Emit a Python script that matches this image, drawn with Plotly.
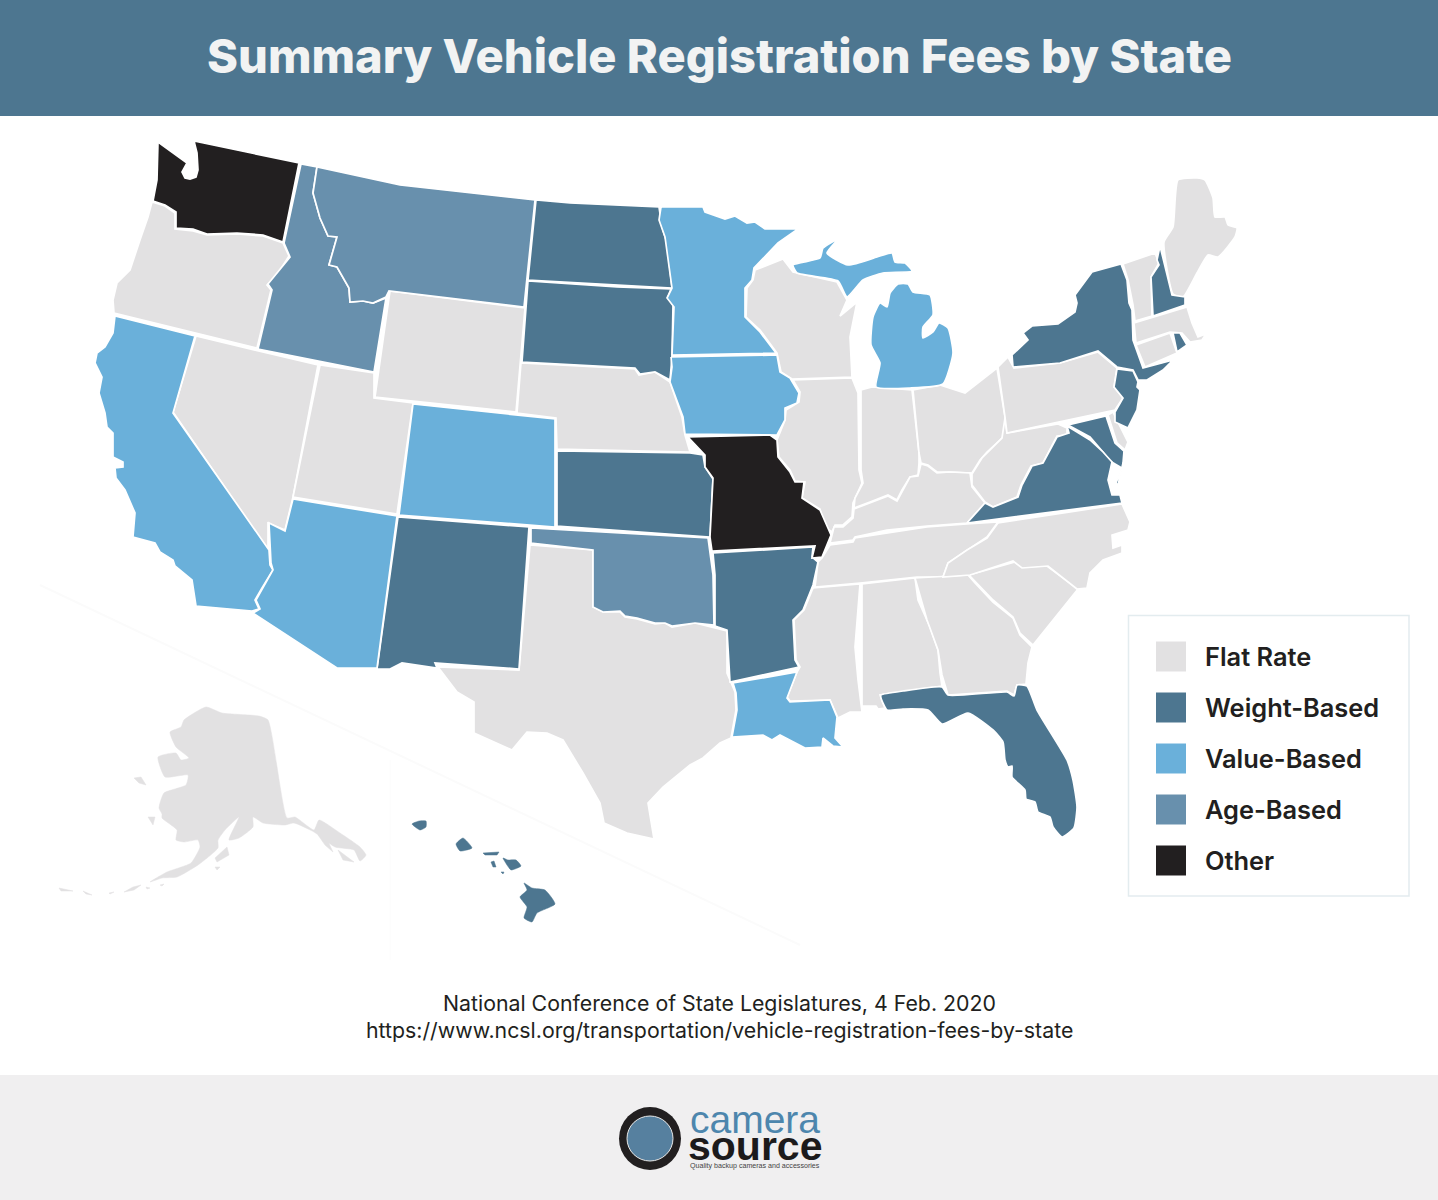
import plotly.graph_objects as go

# map has no usable base layer offline, so the outlines are read off the picture
WA = [(158,142),(173,153),(187,163),(182,172),(185,178),(190,179),(196,177),(198,170),(197,153),(194,141),(299,163),(283,242),(263,235),(237,233),(207,234),(193,229),(176,228),(176,212),(165,205),(153,201),(157,180)]
OR = [(152,202),(165,206),(175,213),(175,229),(193,231),(207,235),(237,234),(263,236),(283,243),(289,256),(277,275),(267,285),(271,290),(257,348),(114,313),(113,300),(117,283),(130,270),(140,240),(148,217)]
ID = [(301,164),(317,167),(313,193),(320,218),(328,236),(337,237),(329,265),(337,267),(349,288),(350,302),(363,301),(373,303),(386,298),(374,372),(258,349),(272,290),(268,284),(290,257),(284,243)]
MT = [(317,167),(400,185),(535,200),(524,307),(389,291),(386,297),(373,303),(363,301),(350,302),(349,288),(337,267),(329,265),(337,237),(328,236),(320,218),(313,193)]
WY = [(390,291),(525,308),(516,412),(375,397)]
ND = [(536,200),(570,203),(659,207),(662,227),(667,243),(672,288),(528,280)]
SD = [(528,281),(617,287),(671,289),(668,297),(673,305),(672,357),(670,380),(655,372),(640,374),(635,368),(522,362)]
NE = [(521,363),(635,369),(639,375),(655,372),(670,382),(682,417),(685,435),(690,452),(557,449),(556,418),(517,413)]
CO = [(413,404),(555,419),(555,527),(399,515)]
UT = [(320,365),(374,373),(374,398),(413,403),(397,514),(293,497)]
NV = [(196,336),(318,365),(293,497),(285,530),(268,523),(268,550),(173,412)]
CA = [(115,316),(195,336),(173,413),(269,550),(270,565),(273,570),(262,588),(255,600),(259,609),(252,611),(196,606),(192,580),(175,566),(173,560),(160,552),(155,543),(133,537),(135,513),(125,490),(116,478),(115,468),(123,467),(123,462),(113,457),(113,433),(107,427),(105,413),(99,393),(102,377),(95,363),(97,353),(105,347),(113,333)]
AZ = [(293,499),(397,516),(377,668),(337,668),(253,613),(260,609),(256,600),(263,588),(273,570),(271,563),(269,523),(285,531)]
NM = [(398,517),(529,527),(519,669),(435,663),(437,668),(402,663),(390,669),(377,669)]
OK = [(531,528),(708,538),(713,575),(714,625),(695,623),(672,626),(665,623),(655,623),(637,618),(625,616),(620,611),(603,612),(593,607),(593,550),(531,543)]
KS = [(557,451),(690,453),(703,455),(705,467),(713,479),(710,537),(557,526)]
MO = [(688,437),(770,435),(777,440),(778,457),(790,472),(795,482),(804,482),(802,498),(820,510),(827,527),(831,535),(822,557),(812,558),(815,546),(712,551),(710,537),(713,478),(705,467),(705,455)]
AR = [(713,553),(813,547),(812,557),(818,562),(813,585),(803,610),(793,620),(795,660),(799,667),(730,682),(727,630),(715,626),(715,575)]
LA = [(733,683),(797,672),(787,698),(790,702),(830,700),(837,717),(835,738),(843,747),(833,746),(823,738),(822,747),(805,748),(780,735),(772,740),(763,735),(732,737),(737,710),(736,693)]
TX = [(530,545),(593,550),(593,607),(603,612),(620,612),(625,617),(637,619),(655,624),(665,623),(672,627),(695,623),(727,631),(727,673),(735,692),(736,710),(731,738),(720,743),(703,758),(690,765),(663,787),(648,803),(654,839),(627,833),(604,823),(600,803),(583,773),(563,740),(547,733),(527,732),(512,750),(474,733),(474,702),(457,692),(438,667),(519,670)]
MN = [(661,207),(703,207),(705,212),(725,219),(735,216),(747,223),(755,222),(765,229),(798,229),(778,243),(754,268),(752,280),(745,288),(745,317),(760,332),(776,353),(672,355),(674,307),(667,298),(672,288),(665,237),(659,220)]
IA = [(671,357),(777,355),(780,372),(790,378),(799,393),(797,403),(785,408),(785,420),(777,435),(685,434),(683,417),(670,382),(672,367)]
WI = [(755,270),(783,259),(793,272),(837,282),(847,300),(840,316),(857,302),(850,337),(852,377),(792,379),(781,372),(777,353),(760,330),(746,317),(747,288),(753,280)]
MI_UPPER = [(793,265),(820,258),(823,248),(838,239),(827,253),(848,265),(877,257),(892,253),(895,262),(905,263),(912,271),(883,273),(863,280),(847,297),(838,281),(797,273)]
MI_LOWER = [(880,303),(887,307),(890,293),(898,284),(908,284),(913,292),(930,295),(933,315),(923,327),(923,338),(933,332),(939,323),(948,328),(953,353),(943,384),(910,388),(876,387),(880,363),(871,345),(873,317)]
IL = [(793,380),(852,378),(858,393),(859,470),(862,483),(853,503),(852,517),(843,525),(835,525),(832,532),(825,527),(820,509),(802,498),(805,482),(795,481),(790,470),(779,457),(777,440),(785,420),(786,410),(799,402),(800,392)]
IN = [(861,390),(872,387),(912,390),(919,453),(919,463),(918,475),(910,477),(902,490),(897,500),(888,495),(870,502),(854,508),(855,498),(863,483),(861,470)]
OH = [(913,390),(940,385),(965,393),(997,368),(1005,417),(1007,433),(1000,440),(987,452),(980,460),(972,473),(950,472),(937,472),(928,465),(921,463),(919,453)]
KY = [(921,464),(928,466),(937,473),(950,472),(970,473),(972,487),(985,503),(967,523),(927,526),(887,530),(855,537),(853,540),(830,543),(832,535),(834,527),(843,527),(853,518),(854,509),(870,503),(888,496),(897,501),(910,477),(918,476)]
TN = [(830,545),(853,542),(855,538),(927,527),(967,524),(998,522),(987,537),(967,550),(948,563),(943,577),(917,577),(860,583),(815,587),(818,562),(822,558)]
MS = [(813,588),(860,584),(855,647),(858,680),(862,712),(850,712),(838,718),(830,700),(790,701),(787,697),(797,672),(800,667),(796,660),(794,620),(804,610)]
AL = [(862,584),(915,578),(918,600),(930,627),(938,650),(940,673),(942,686),(880,695),(885,708),(878,709),(876,706),(862,706)]
GA = [(915,578),(968,575),(975,583),(993,602),(1013,618),(1020,635),(1032,647),(1028,663),(1026,684),(1017,685),(1014,695),(1007,691),(948,695),(942,675),(938,650),(927,620)]
SC = [(969,575),(1015,562),(1022,567),(1047,566),(1078,589),(1033,645),(1020,633),(1013,617),(993,600),(975,582)]
NC = [(998,523),(1122,504),(1130,522),(1128,530),(1112,535),(1113,548),(1122,545),(1122,553),(1103,560),(1090,573),(1087,588),(1077,589),(1048,566),(1022,568),(1013,561),(970,575),(943,577),(948,563),(967,550),(987,538)]
VA = [(967,523),(1122,503),(1120,495),(1112,495),(1108,480),(1112,462),(1103,452),(1090,440),(1077,432),(1067,426),(1069,433),(1057,437),(1043,463),(1032,466),(1022,485),(1018,497),(993,507),(985,503)]
WV = [(1005,418),(1007,433),(1058,424),(1067,428),(1067,435),(1057,436),(1043,463),(1031,466),(1021,485),(1017,497),(993,507),(985,502),(972,485),(972,474),(982,458),(1002,438)]
MD = [(1068,425),(1106,416),(1115,443),(1124,451),(1123,463),(1118,485),(1116,483),(1122,468),(1110,461),(1103,452),(1090,437),(1077,430)]
DE = [(1108,415),(1113,412),(1128,442),(1125,450),(1117,443)]
PA = [(998,367),(1008,357),(1014,368),(1060,363),(1098,352),(1117,368),(1114,387),(1123,398),(1115,410),(1007,433),(1005,417)]
NY = [(1013,367),(1012,355),(1028,340),(1023,333),(1032,326),(1058,324),(1075,312),(1077,303),(1075,295),(1092,272),(1121,264),(1127,280),(1129,303),(1132,310),(1133,340),(1143,368),(1173,360),(1163,370),(1147,380),(1138,380),(1133,370),(1117,367),(1098,351),(1060,363)]
NJ = [(1117,369),(1133,371),(1138,382),(1137,387),(1140,390),(1137,410),(1128,428),(1115,422),(1115,412),(1123,398),(1114,387)]
CT = [(1136,345),(1170,333),(1177,353),(1145,367)]
RI = [(1173,333),(1180,333),(1187,345),(1177,352)]
MA = [(1134,323),(1187,307),(1192,323),(1198,337),(1206,334),(1202,340),(1190,342),(1182,333),(1170,332),(1136,343)]
VT = [(1123,264),(1155,253),(1159,263),(1151,277),(1152,316),(1135,321),(1133,305),(1128,280)]
NH = [(1160,246),(1172,295),(1185,297),(1185,305),(1153,316),(1151,277),(1159,265),(1157,260)]
ME = [(1164,242),(1173,227),(1178,180),(1197,178),(1205,180),(1213,198),(1215,217),(1225,217),(1228,225),(1237,228),(1235,237),(1218,257),(1208,255),(1197,273),(1183,297),(1173,294)]
FL = [(881,695),(903,691),(942,687),(948,695),(1007,692),(1014,696),(1017,685),(1027,686),(1037,710),(1067,760),(1073,780),(1077,807),(1074,828),(1062,837),(1053,827),(1050,817),(1038,812),(1035,802),(1026,799),(1025,790),(1012,777),(1012,766),(1008,767),(1005,760),(1003,742),(993,730),(968,713),(942,724),(928,710),(903,709),(887,710),(881,698)]

AK_MAIN = [(206,707),(222,713),(259,716),(268,720),(287,818),(295,817),(314,830),(319,820),(340,833),(360,847),(366,855),(360,861),(354,850),(335,847),(314,832),(294,823),(285,825),(263,823),(253,817),(253,827),(239,838),(229,840),(239,817),(225,830),(218,840),(218,848),(198,865),(177,877),(162,878),(150,882),(167,872),(191,863),(200,847),(198,840),(184,842),(176,840),(177,830),(162,818),(162,814),(159,808),(164,793),(186,785),(188,775),(165,777),(158,757),(176,753),(181,760),(189,758),(176,747),(170,732),(181,727),(184,720)]
AK_KODIAK = [(215,858),(227,847),(229,855),(217,862)]
AK_POW = [(318,835),(325,835),(333,852),(325,845)]
AK_BARANOF = [(338,850),(354,862),(343,860)]
AK_ST_LAWRENCE = [(134,778),(141,777),(146,785),(139,783)]
AK_NUNIVAK = [(148,817),(155,817),(153,825)]
AK_ALEUT1 = [(59,888),(73,891),(61,891)]
AK_ALEUT2 = [(83,891),(92,895),(86,894)]
AK_ALEUT3 = [(109,893),(114,892),(110,894)]
AK_ALEUT4 = [(124,892),(133,887),(141,885),(134,890)]
AK_ALEUT5 = [(146,887),(150,888),(147,889)]
AK_ALEUT6 = [(160,885),(164,884),(162,886)]
AK_ALEUT7 = [(215,867),(220,867),(217,870)]
HI_KAUAI = [(412,824),(419,821),(426,821),(426,827),(420,830)]
HI_OAHU = [(456,844),(463,838),(472,848),(460,851)]
HI_MOLOKAI = [(483,853),(499,852),(497,855),(485,855)]
HI_LANAI = [(491,862),(494,861),(496,867),(493,867)]
HI_KAHOOLAWE = [(501,872),(504,872),(503,874)]
HI_MAUI = [(503,858),(508,860),(516,860),(521,866),(511,870),(507,865)]
HI_BIG = [(524,883),(532,888),(545,890),(555,904),(537,913),(532,922),(524,918),(527,907),(520,897),(527,890)]

AK = [AK_MAIN, AK_KODIAK, AK_POW, AK_BARANOF, AK_ST_LAWRENCE, AK_NUNIVAK, AK_ALEUT1, AK_ALEUT2, AK_ALEUT3, AK_ALEUT4, AK_ALEUT5, AK_ALEUT6, AK_ALEUT7]
HI = [HI_KAUAI, HI_OAHU, HI_MOLOKAI, HI_LANAI, HI_KAHOOLAWE, HI_MAUI, HI_BIG]

flat_rate = [OR, NV, UT, WY, NE, TX, WI, IL, IN, OH, KY, TN, MS, AL, GA, SC, NC, WV, PA, DE, CT, MA, VT, ME] + AK
weight_based = [ND, SD, KS, NM, AR, NY, NH, NJ, RI, MD, VA, FL] + HI
value_based = [CA, AZ, CO, MN, IA, LA, MI_UPPER, MI_LOWER]
age_based = [ID, MT, OK]
other = [WA, MO]

# curvy coasts read better rounded, everything else keeps sharp corners
rounded = [FL, ME, MI_UPPER, MI_LOWER, AK_MAIN, HI_KAUAI, HI_OAHU, HI_MAUI, HI_BIG]
# islands and Alaska have no white outline, it would eat them
no_outline = AK + HI

legend_labels = ["Flat Rate", "Weight-Based", "Value-Based", "Age-Based", "Other"]
legend_colors = ["#e2e1e2", "#4d7690", "#6ab0da", "#6890ad", "#221f20"]
legend_centers = [656, 707, 758, 809, 860]
groups = [flat_rate, weight_based, value_based, age_based, other]

title = "Summary Vehicle Registration Fees by State"
source_lines = ["National Conference of State Legislatures, 4 Feb. 2020",
                "https://www.ncsl.org/transportation/vehicle-registration-fees-by-state"]

W, H = 1438, 1200

fig = go.Figure()

for polys, label, color in zip(groups, legend_labels, legend_colors):
    for poly in polys:
        xs = [p[0] for p in poly] + [poly[0][0]]
        ys = [p[1] for p in poly] + [poly[0][1]]
        bare = any(poly is q for q in no_outline)
        line = dict(color=color if bare else "white", width=0.5 if bare else 1.7)
        if any(poly is q for q in rounded):
            line.update(shape="spline", smoothing=0.5)
        fig.add_trace(go.Scatter(x=xs, y=ys, mode="lines", fill="toself", fillcolor=color,
                                 line=line, hoverinfo="skip", showlegend=False, name=label))

shapes = [
    dict(type="rect", x0=0, x1=W, y0=0, y1=116, fillcolor="#4d7690", line_width=0, layer="below"),
    dict(type="rect", x0=0, x1=W, y0=1075, y1=H, fillcolor="#f0eff0", line_width=0, layer="below"),
    dict(type="rect", x0=1128.5, x1=1409, y0=615.5, y1=896, fillcolor="white",
         line=dict(color="#e3ecef", width=1.5), layer="below"),
    # faint inset guides
    dict(type="line", x0=40, y0=585, x1=800, y1=945, line=dict(color="#fbfbfb", width=2), layer="below"),
    dict(type="line", x0=390, y0=760, x1=390, y1=960, line=dict(color="#fcfcfc", width=1), layer="below"),
    # logo ring
    dict(type="circle", x0=619, x1=681, y0=1107, y1=1170, fillcolor="#221f20", line_width=0),
    dict(type="circle", x0=627, x1=673, y0=1116, y1=1161, fillcolor="#56809f", line=dict(color="#e8e8e8", width=1)),
]

annotations = [
    dict(x=719.5, y=55, text=title, font=dict(family="Inter", size=47, color="#f2f3f3", weight=800)),
    dict(x=719.5, y=1003, text=source_lines[0], font=dict(family="Inter", size=21.3, color="#221f20")),
    dict(x=719.5, y=1030, text=source_lines[1], font=dict(family="Inter", size=21.3, color="#221f20")),
    dict(x=688, y=1119, text="camera", xanchor="left", font=dict(family="Liberation Sans", size=39, color="#4d86ad")),
    dict(x=686, y=1146, text="source", xanchor="left", font=dict(family="Liberation Sans", size=41, color="#1c1a1b", weight=700)),
    dict(x=688, y=1166, text="Quality backup cameras and accessories", xanchor="left",
         font=dict(family="Liberation Sans", size=7.1, color="#444444")),
]

for label, color, yc in zip(legend_labels, legend_colors, legend_centers):
    shapes.append(dict(type="rect", x0=1156, x1=1186, y0=yc - 14.5, y1=yc + 15.5, fillcolor=color, line_width=0))
    annotations.append(dict(x=1203, y=yc, text=label, xanchor="left",
                            font=dict(family="Inter", size=25.4, color="#221f20", weight=600)))

for a in annotations:
    a.update(xref="x", yref="y", showarrow=False)
    a.setdefault("xanchor", "center")
    a["yanchor"] = "middle"

fig.update_layout(
    width=W, height=H,
    margin=dict(l=0, r=0, t=0, b=0),
    paper_bgcolor="white",
    plot_bgcolor="rgba(0,0,0,0)",
    showlegend=False,
    shapes=shapes,
    annotations=annotations,
    xaxis=dict(range=[0, W], visible=False, fixedrange=True),
    yaxis=dict(range=[H, 0], visible=False, fixedrange=True),
)
# default page margin would push the figure 8px in
fig.write_html("out.html", config=dict(displayModeBar=False), post_script="document.body.style.margin='0';")
